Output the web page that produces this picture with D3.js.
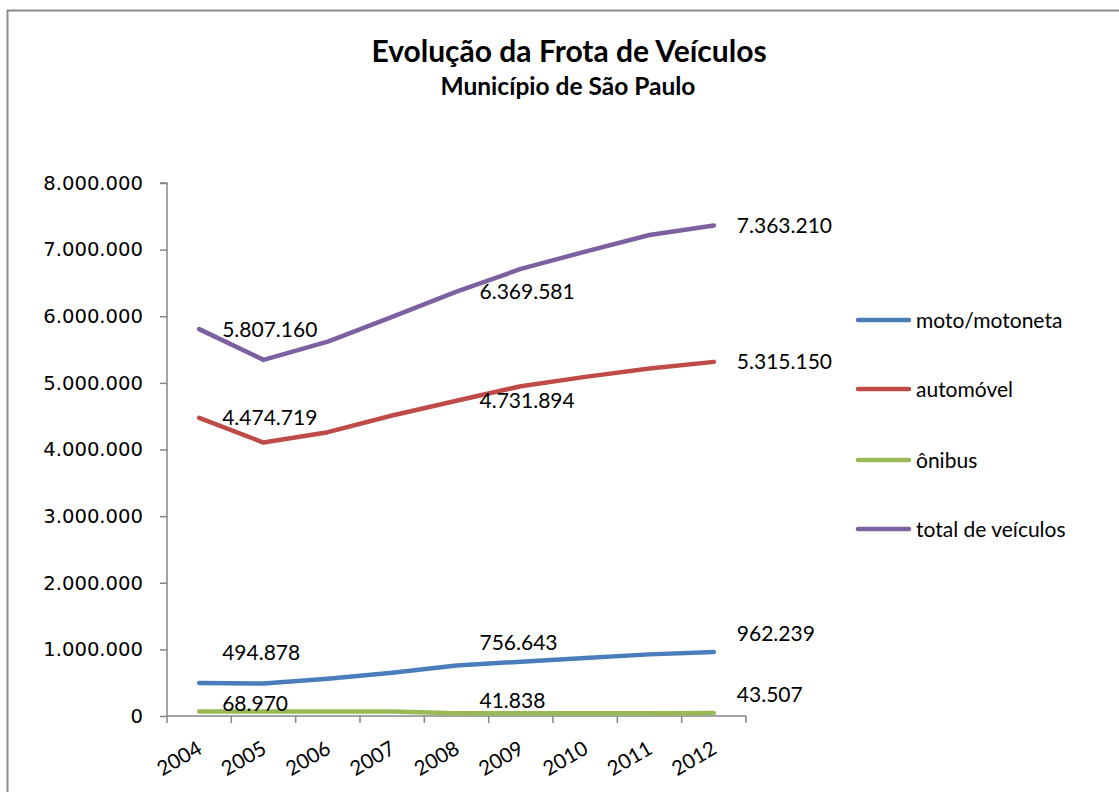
<!DOCTYPE html>
<html>
<head>
<meta charset="utf-8">
<script src="https://cdn.jsdelivr.net/npm/d3@7"></script>
<style>
  html, body { margin: 0; padding: 0; background: #fff; }
  svg { display: block; }
</style>
</head>
<body>
<svg id="chart" width="1119" height="792"></svg>
<script>
// ---- data ----
const years = ["2004","2005","2006","2007","2008","2009","2010","2011","2012"];
const moto = [494878, 488000, 560000, 650000, 756643, 815000, 870000, 925000, 962239];
const automovel = [4474719, 4104000, 4260000, 4510000, 4731894, 4950000, 5090000, 5215000, 5315150];
const onibus = [68970, 69000, 68500, 67000, 41838, 41500, 42000, 43000, 43507];
const total = [5807160, 5345000, 5620000, 5990000, 6369581, 6710000, 6970000, 7220000, 7363210];
const seriesNames = ["moto/motoneta", "automóvel", "ônibus", "total de veículos"];
const yTicks = [0, 1000000, 2000000, 3000000, 4000000, 5000000, 6000000, 7000000, 8000000];
const labelIdx = [0, 4, 8];
const titleText = "Evolução da Frota de Veículos";
const subtitleText = "Município de São Paulo";

// ---- styles ----
const colors = ["#4A7EBB", "#BE4B48", "#98B954", "#7D60A0"];
const labelLift = [[31, 23, 18], [0, 0, 0], [8, 13, 19], [0, 0, 0]];

const svg = d3.select("#chart");
const W = 1119, H = 792;

// border
svg.append("rect").attr("x", 7.5).attr("y", 10.5).attr("width", W + 10).attr("height", H + 10)
  .attr("fill", "none").attr("stroke", "#8c8c8c").attr("stroke-width", 2);

// titles
svg.append("text").attr("x", 569).attr("y", 62).attr("text-anchor", "middle")
  .attr("font-family", "Lato, 'Open Sans', sans-serif").attr("font-weight", "bold")
  .attr("font-size", 30).attr("fill", "#000").text(titleText);
svg.append("text").attr("x", 568).attr("y", 95).attr("text-anchor", "middle")
  .attr("font-family", "Lato, 'Open Sans', sans-serif").attr("font-weight", "bold")
  .attr("font-size", 24.5).attr("fill", "#000").text(subtitleText);

const pLeft = 167, pRight = 746, pTop = 183, pBottom = 716;

const x = d3.scaleBand().domain(years).range([pLeft, pRight]).padding(0);
const y = d3.scaleLinear().domain([0, 8000000]).range([pBottom, pTop]);

const fmt = v => d3.format(",")(v).replace(/,/g, ".");

// y axis
const yAxis = d3.axisLeft(y).tickValues(yTicks).tickSize(7).tickPadding(17).tickFormat(fmt);
const gy = svg.append("g").attr("transform", `translate(${pLeft},0)`).call(yAxis);
gy.select(".domain").attr("stroke", "#868686").attr("stroke-width", 1.5).attr("d", `M-7,${pTop}H0V${pBottom}`);
gy.selectAll(".tick line").attr("stroke", "#868686").attr("stroke-width", 1.5);
gy.selectAll(".tick text").attr("font-family", "'DejaVu Sans', sans-serif").attr("font-size", 19.6).attr("fill", "#000");

// x axis: ticks at category boundaries
const gx = svg.append("g").attr("transform", `translate(0,${pBottom})`);
gx.append("line").attr("x1", pLeft).attr("x2", pRight).attr("y1", 0).attr("y2", 0)
  .attr("stroke", "#868686").attr("stroke-width", 1.5);
const bounds = years.map(d => x(d)).concat([x(years[years.length - 1]) + x.bandwidth()]);
gx.selectAll("line.tk").data(bounds).enter().append("line").attr("class", "tk")
  .attr("x1", d => d).attr("x2", d => d).attr("y1", 0).attr("y2", 7)
  .attr("stroke", "#868686").attr("stroke-width", 1.5);
gx.selectAll("text.xl").data(years).enter().append("text").attr("class", "xl")
  .attr("transform", d => `translate(${x(d) + x.bandwidth() / 2 - 3},${24}) rotate(-30)`)
  .attr("text-anchor", "end").attr("dy", "0.71em")
  .attr("font-family", "Lato, 'Open Sans', sans-serif").attr("font-size", 20.5).attr("fill", "#000")
  .text(d => d);

// lines
const data = [moto, automovel, onibus, total];
const line = d3.line().x((d, i) => x(years[i]) + x.bandwidth() / 2).y(d => y(d));
data.forEach((s, k) => {
  svg.append("path").datum(s).attr("d", line).attr("fill", "none")
    .attr("stroke", colors[k]).attr("stroke-width", 4.5)
    .attr("stroke-linecap", "round").attr("stroke-linejoin", "round");
});

// data labels
data.forEach((s, k) => {
  labelIdx.forEach((i, j) => {
    svg.append("text")
      .attr("x", x(years[i]) + x.bandwidth() / 2 + 23)
      .attr("y", y(s[i]) - labelLift[k][j])
      .attr("dy", "0.36em")
      .attr("font-family", "Lato, 'Open Sans', sans-serif").attr("font-size", 21).attr("fill", "#000")
      .text(fmt(s[i]));
  });
});

// legend
const legY = [320, 389, 460, 529];
seriesNames.forEach((n, k) => {
  svg.append("line").attr("x1", 858).attr("x2", 909).attr("y1", legY[k]).attr("y2", legY[k])
    .attr("stroke", colors[k]).attr("stroke-width", 4.5).attr("stroke-linecap", "round");
  svg.append("text").attr("x", 916).attr("y", legY[k]).attr("dy", "0.36em")
    .attr("font-family", "Lato, 'Open Sans', sans-serif").attr("font-size", 21).attr("fill", "#000")
    .text(n);
});
</script>
</body>
</html>
